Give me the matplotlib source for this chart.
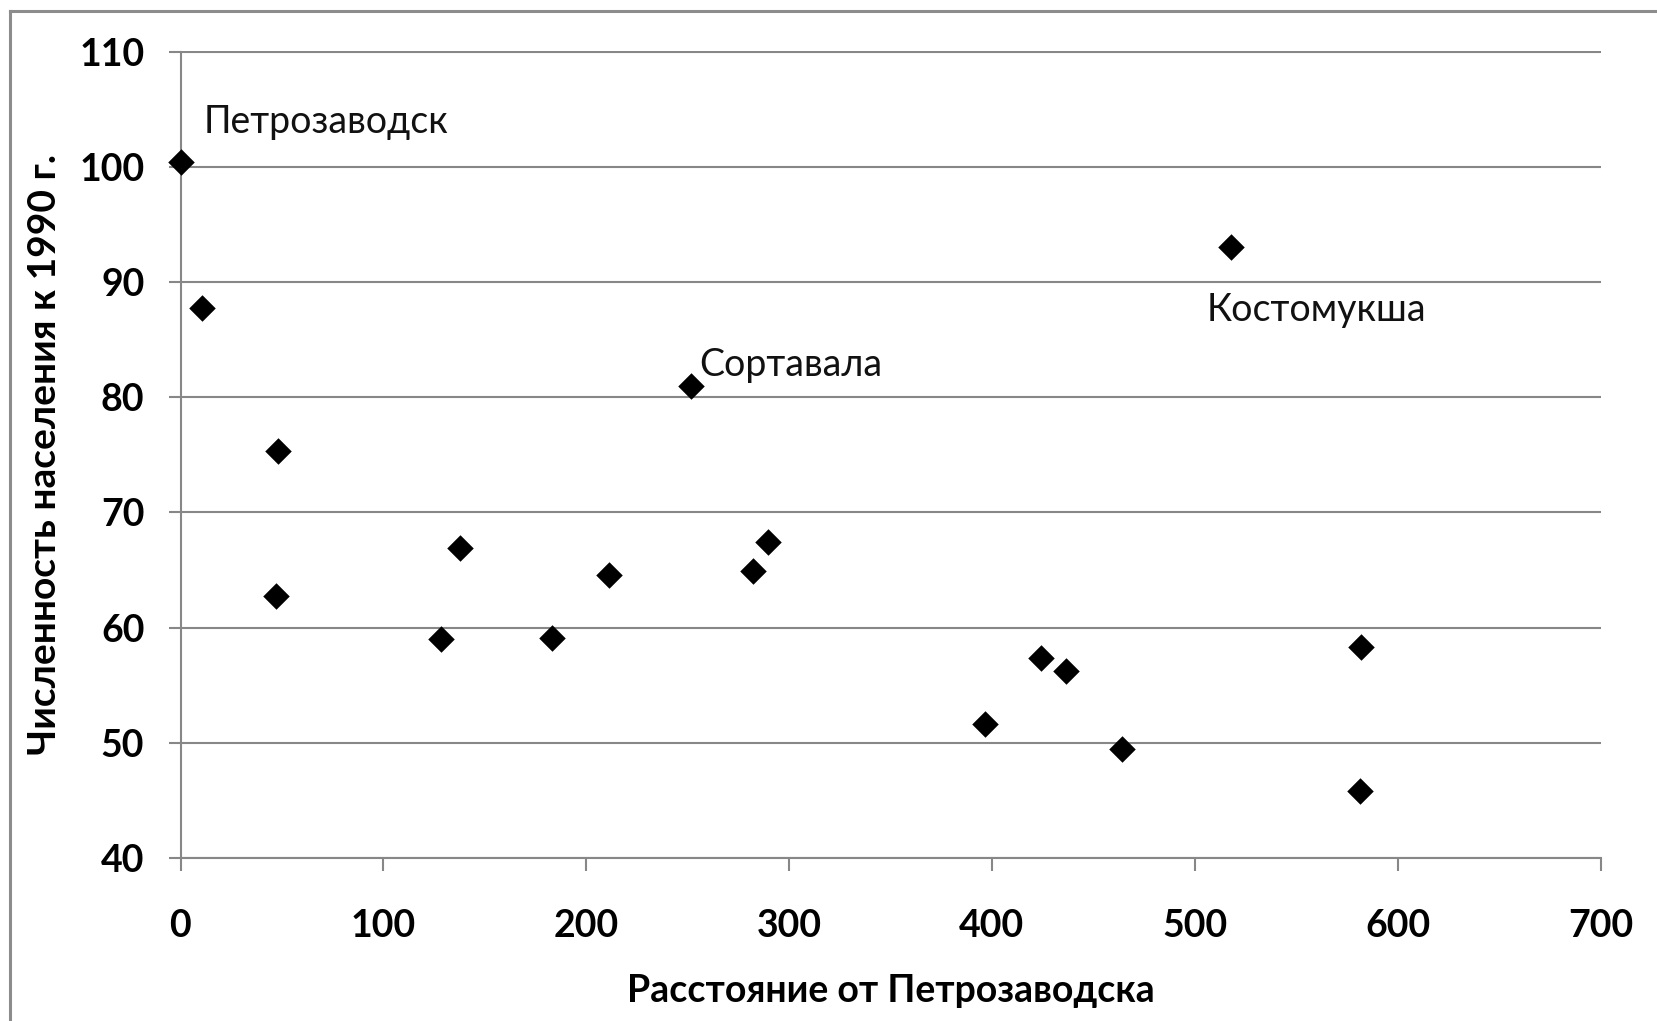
import matplotlib
matplotlib.use("Agg")
import matplotlib.pyplot as plt
from matplotlib.lines import Line2D

# Data
distance = [0, 10.4, 47.9, 46.9, 128.2, 137.6, 182.9, 211, 251.7, 282.4, 289.7,
            396.6, 424.2, 436.7, 464.3, 518, 582, 581.5]
population = [100.4, 87.7, 75.3, 62.7, 59.0, 66.9, 59.1, 64.55, 80.95, 64.9, 67.4,
              51.6, 57.4, 56.2, 49.5, 93.05, 58.3, 45.8]
labels = ["Петрозаводск", "Сортавала", "Костомукша"]
label_pos = [(11.6, 103.9), (255.7, 82.8), (505.6, 87.6)]
x_ticks = [0, 100, 200, 300, 400, 500, 600, 700]
y_ticks = [40, 50, 60, 70, 80, 90, 100, 110]
x_label = "Расстояние от Петрозаводска"
y_label = "Численность населения к 1990 г."

plt.rcParams['font.family'] = ['Lato', 'DejaVu Sans']

W, H = 1657, 1021
fig = plt.figure(figsize=(W / 100, H / 100), dpi=100)
fig.patch.set_facecolor('white')

left, right, top, bottom = 180.5, 1600.5, 51.5, 858.0
ax = fig.add_axes([left / W, 1 - bottom / H, (right - left) / W, (bottom - top) / H])

grid_c = '#878787'
ax.scatter(distance, population, marker='D', s=13.5 ** 2, color='black',
           linewidths=0, zorder=3, clip_on=False)

for txt, (tx, ty) in zip(labels, label_pos):
    ax.text(tx, ty, txt, ha='left', va='center', fontsize=27, color='#111111')

ax.set_xlim(0, 700)
ax.set_ylim(40, 110)
ax.set_xticks(x_ticks)
ax.set_yticks(y_ticks)
ax.set_xticklabels([str(v) for v in x_ticks], fontsize=27, fontweight='bold')
ax.set_yticklabels([str(v) for v in y_ticks], fontsize=27, fontweight='bold')

ax.yaxis.grid(True, color=grid_c, linewidth=1.5)
ax.xaxis.grid(False)
ax.set_axisbelow(True)

for s in ['top', 'right']:
    ax.spines[s].set_visible(False)
for s in ['left', 'bottom']:
    ax.spines[s].set_color(grid_c)
    ax.spines[s].set_linewidth(1.5)

ax.tick_params(axis='both', direction='out', length=9, width=1.5, color=grid_c)
ax.tick_params(axis='y', pad=17)
ax.tick_params(axis='x', pad=28)

ax.set_xlabel(x_label, fontsize=27, fontweight='bold', va='center')
ax.xaxis.set_label_coords(0.5, (bottom - 991) / (bottom - top))
ax.set_ylabel(y_label, fontsize=28, fontweight='bold', va='center')
ax.yaxis.set_label_coords((44.4 - left) / (right - left), 0.5)

# outer chart border (top and left visible)
fig.add_artist(Line2D([10 / W, 1.0], [1 - 11 / H, 1 - 11 / H], color='#8c8c8c',
                      linewidth=2.2, transform=fig.transFigure))
fig.add_artist(Line2D([10 / W, 10 / W], [1 - 11 / H, 0.0], color='#8c8c8c',
                      linewidth=2.2, transform=fig.transFigure))

fig.savefig('out.png', dpi=100, facecolor='white')
